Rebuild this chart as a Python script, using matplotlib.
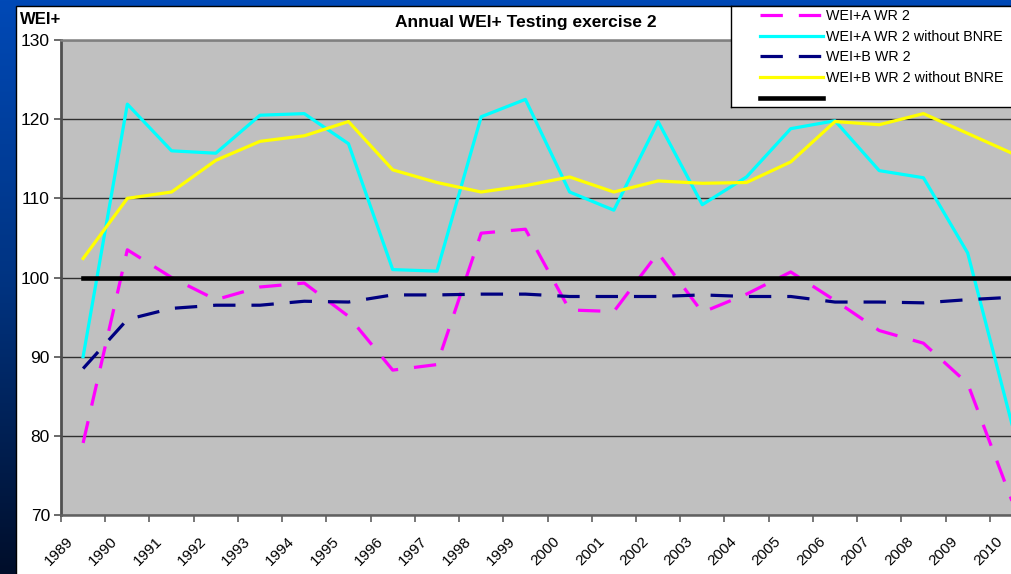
import numpy as np
import matplotlib.pyplot as plt
from matplotlib.colors import LinearSegmentedColormap
from matplotlib.patches import Rectangle

plt.rcParams['font.family'] = ['Liberation Sans', 'DejaVu Sans']

# data
years = list(range(1989, 2011))
wei_a = [79.1, 103.5, 100.0, 97.2, 98.8, 99.3, 95.1, 88.3, 89.0, 105.6, 106.1,
         95.9, 95.7, 103.1, 95.6, 97.9, 100.7, 97.1, 93.3, 91.7, 86.6, 71.8]
wei_a_nobnre = [90.0, 121.9, 116.0, 115.7, 120.5, 120.7, 116.9, 101.0, 100.8, 120.3, 122.5,
                110.8, 108.5, 119.7, 109.2, 112.7, 118.8, 119.8, 113.5, 112.6, 103.1, 81.5]
wei_b = [88.5, 94.7, 96.1, 96.5, 96.5, 97.0, 96.9, 97.8, 97.8, 97.9, 97.9,
         97.6, 97.6, 97.6, 97.8, 97.6, 97.6, 96.9, 96.9, 96.8, 97.2, 97.5]
wei_b_nobnre = [102.4, 110.0, 110.8, 114.8, 117.2, 117.9, 119.7, 113.6, 112.0, 110.8, 111.6,
                112.7, 110.8, 112.2, 111.9, 112.0, 114.6, 119.7, 119.3, 120.7, 118.2, 115.7]
reference = [100] * len(years)

labels = ["WEI+A WR 2", "WEI+A WR 2 without BNRE", "WEI+B WR 2",
          "WEI+B WR 2 without BNRE", ""]

W, H = 1012, 574
fig = plt.figure(figsize=(W / 100, H / 100), dpi=100)

# slide background (blue gradient) + white chart area
bg = fig.add_axes([0, 0, 1, 1], zorder=-10)
cmap = LinearSegmentedColormap.from_list("slide", ["#0049B6", "#003380", "#000E2A"])
grad = np.linspace(0, 1, 256).reshape(-1, 1)
bg.imshow(grad, cmap=cmap, aspect="auto", extent=[0, W, H, 0])
bg.add_patch(Rectangle((16, 6), W, H, facecolor="white", edgecolor="black", linewidth=1))
bg.set_xlim(0, W)
bg.set_ylim(H, 0)
bg.axis("off")

# main plot area
ax = fig.add_axes([61 / W, (H - 515) / H, (1034 - 61) / W, 475 / H])
ax.set_facecolor("#C0C0C0")
x = np.arange(len(years)) + 0.5

ax.plot(x, wei_a, color="#FF00FF", lw=2.3, dashes=(7, 5))
ax.plot(x, wei_a_nobnre, color="#00FFFF", lw=2.3)
ax.plot(x, wei_b, color="#000080", lw=2.3, dashes=(7, 5))
ax.plot(x, wei_b_nobnre, color="#FFFF00", lw=2.3)
ax.plot(x, reference, color="black", lw=3.3)

ax.set_xlim(0, len(years))
ax.set_ylim(70, 130)
ax.set_yticks(range(70, 131, 10))
# tick marks on the major ticks, year labels on slightly shifted minor ticks
ax.set_xticks(np.arange(len(years)))
ax.set_xticklabels([])
ax.set_xticks(np.arange(len(years)) + 0.12, minor=True)
ax.set_xticklabels(years, minor=True, rotation=45, ha="right",
                   rotation_mode="anchor", fontsize=11)
ax.tick_params(axis="y", labelsize=12.5, length=5, width=1.2, color="#505050", pad=3)
ax.tick_params(axis="x", which="major", length=5, width=1.2, color="#606060")
ax.tick_params(axis="x", which="minor", length=0, pad=14)
ax.yaxis.grid(True, color="#303030", lw=1)
ax.set_axisbelow(True)
ax.spines["right"].set_visible(False)
ax.spines["left"].set_color("#505050")
ax.spines["left"].set_linewidth(2)
ax.spines["bottom"].set_color("#606060")
ax.spines["bottom"].set_linewidth(1.8)
ax.spines["top"].set_color("#808080")
ax.spines["top"].set_linewidth(1.8)

fig.text(526 / W, 1 - 22 / H, "Annual WEI+ Testing exercise 2", ha="center", va="center",
         fontsize=12.5, fontweight="bold")
fig.text(20 / W, 1 - 20 / H, "WEI+", ha="left", va="center", fontsize=12, fontweight="bold")

# legend box overlapping the top right of the plot
lax = fig.add_axes([731 / W, 1 - 107 / H, (1040 - 731) / W, 101 / H], zorder=5)
lax.set_facecolor("white")
lax.set_xticks([])
lax.set_yticks([])
for s in lax.spines.values():
    s.set_color("black")
    s.set_linewidth(1)
handles = ax.get_lines()
lax.legend(handles, labels, loc="upper left", bbox_to_anchor=(29 / 309, 1 - 3 / 101),
           frameon=False, fontsize=10.3, handlelength=4.4, handletextpad=0.2,
           labelspacing=0.47, borderpad=0, borderaxespad=0)

fig.savefig("out.png", dpi=100)
